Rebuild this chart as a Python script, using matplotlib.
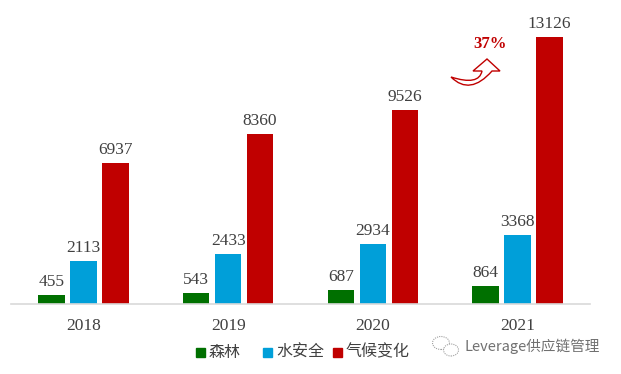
import matplotlib
matplotlib.use("Agg")
import matplotlib.pyplot as plt
from matplotlib.patches import Rectangle, Ellipse, PathPatch
from matplotlib.path import Path
from matplotlib.transforms import Affine2D
import numpy as np

years = ["2018", "2019", "2020", "2021"]
forest = [455, 543, 687, 864]
water = [2113, 2433, 2934, 3368]
climate = [6937, 8360, 9526, 13126]
series_names = ["森林", "水安全", "气候变化"]
colors = ["#007000", "#009fd9", "#c00000"]

W, H = 621, 374
fig = plt.figure(figsize=(W / 100, H / 100), dpi=100)
ax = fig.add_axes([11 / W, 1 - 304 / H, 579 / W, 285 / H])

x = np.arange(len(years))
bw = 0.183
off = 0.221
serif = ["Liberation Serif", "DejaVu Serif"]
for i, (vals, c) in enumerate(zip([forest, water, climate], colors)):
    pos = x + (i - 1) * off
    ax.bar(pos, vals, width=bw, color=c, zorder=2)
    for p, v in zip(pos, vals):
        ax.text(p, v + 250, f"{v}", ha="center", va="bottom", fontsize=12.5,
                color="#404040", family=serif)

ax.set_xlim(-0.5, 3.5)
ax.set_ylim(0, 14000)
for s in ["top", "right", "left"]:
    ax.spines[s].set_visible(False)
ax.spines["bottom"].set_color("#d9d9d9")
ax.spines["bottom"].set_linewidth(1.2)
ax.set_yticks([])
ax.set_xticks(x)
ax.set_xticklabels(years, fontsize=12.5, color="#404040", family=serif)
ax.tick_params(axis="x", length=0, pad=10)

# growth annotation
ax.text(2.81, 12780, "37%", ha="center", va="center", fontsize=12,
        fontweight="bold", color="#c00000", family=serif)

# hollow curved "U-turn" arrow, drawn in pixel space (y down)
pts = [(451, 77), (470, 96), (492, 71),   # outer curve
       (500, 71), (487, 59), (473, 71),    # arrow head
       (482, 71), (479, 86), (451, 77),    # inner curve back to tail
       (451, 77)]
codes = [Path.MOVETO, Path.CURVE3, Path.CURVE3,
         Path.LINETO, Path.LINETO, Path.LINETO,
         Path.LINETO, Path.CURVE3, Path.CURVE3,
         Path.CLOSEPOLY]
verts = [(px, H - py) for px, py in pts]
pix = Affine2D().scale(1 / 100) + fig.dpi_scale_trans
fig.patches.append(PathPatch(Path(verts, codes), transform=pix,
                             facecolor="white", edgecolor="#c00000", lw=1.0))

# legend
cjk = ["Noto Sans CJK SC", "DejaVu Sans"]
lx = [196, 263, 333]
for xx, name, c in zip(lx, series_names, colors):
    fig.patches.append(Rectangle((xx / W, 1 - 357 / H), 9 / W, 9 / H,
                                 transform=fig.transFigure, color=c))
    fig.text((xx + 13) / W, 1 - 352 / H, name, fontsize=11.5, color="#404040",
             family=cjk, va="center", ha="left")

# watermark icon (two speech bubbles)
fig.patches.append(Ellipse((441 / W, 1 - 343 / H), 17 / W, 13 / H,
                           transform=fig.transFigure, fill=False,
                           edgecolor="#a0a0a0", lw=0.8, linestyle=(0, (1, 1))))
fig.patches.append(Ellipse((451 / W, 1 - 350 / H), 15 / W, 12 / H,
                           transform=fig.transFigure, facecolor="white",
                           edgecolor="#a0a0a0", lw=0.8, linestyle=(0, (1, 1))))
fig.text(465 / W, 1 - 346 / H, "Leverage供应链管理", fontsize=10.5,
         color="#707070", family=cjk, va="center", ha="left")

fig.savefig("out.png", dpi=100)
